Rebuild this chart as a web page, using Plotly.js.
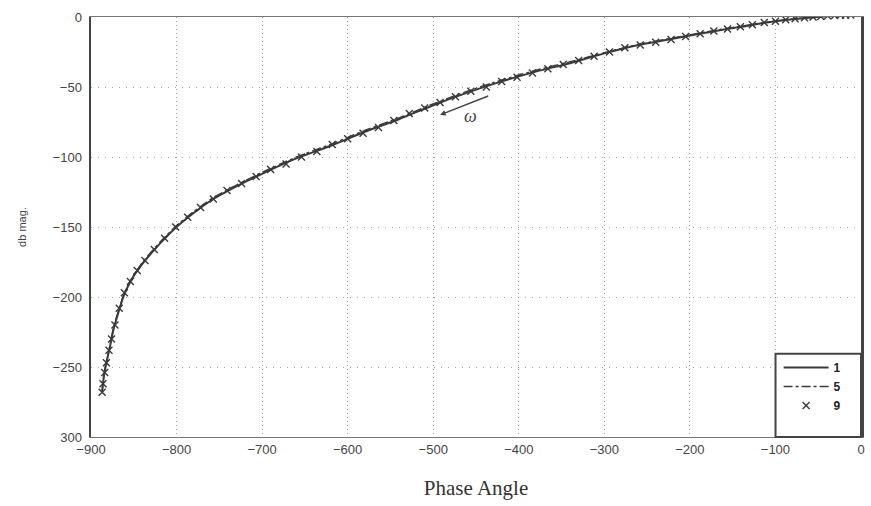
<!DOCTYPE html>
<html>
<head>
<meta charset="utf-8">
<script src="https://cdn.plot.ly/plotly-3.0.1.min.js"></script>
<style>
  html, body { margin: 0; padding: 0; background: #fff; }
  #chart { width: 871px; height: 506px; }
</style>
</head>
<body>
<div id="chart"></div>
<script>
// Nichols-style plot: magnitude (dB) against phase angle (deg) for three cases.

// Case 1 (solid line)
const phase1 = [-887, -885, -882, -878, -874, -868, -861, -852, -842, -830, -815, -800,
                -780, -757, -730, -700, -660, -620, -580, -540, -500, -460, -420, -380,
                -340, -300, -260, -220, -180, -140, -100, -70, -40, -10];
const mag1   = [-268, -257, -247, -236, -224, -211, -198, -187, -178, -169, -159, -150,
                -140, -130, -121, -112, -101, -92, -82, -73, -63, -54, -46, -39,
                -33, -26, -20, -15.5, -11, -7, -3, -1, 0.6, 1.4];

// Case 5 (dash-dot line)
const phase5 = [-887, -885, -882, -878, -874, -868, -861, -852, -842, -830, -815, -800,
                -780, -757, -730, -700, -660, -620, -580, -540, -500, -460, -420, -380,
                -340, -300, -260, -220, -180, -140, -100, -70, -40, -10];
const mag5   = [-267, -256, -246, -235, -223, -210, -197, -186, -177, -168, -158, -149,
                -139, -129, -120, -111, -100, -91, -81, -72, -62, -53, -45, -38,
                -32, -25.5, -19.5, -15, -10.5, -6.5, -2.8, -0.8, 0.7, 1.4];

// Case 9 (x markers)
const phase9 = [-887, -886, -884, -882, -879, -876, -872, -867, -861, -854, -846, -837,
                -826, -814, -801, -787, -772, -757, -741, -724, -707, -690, -672, -654,
                -636, -618, -600, -582, -564, -546, -528, -510, -492, -474, -456, -438,
                -420, -402, -384, -366, -348, -330, -312, -294, -276, -258, -240, -222,
                -205, -188, -172, -156, -141, -127, -113, -100, -88, -77, -66, -56,
                -47, -39, -31, -24, -18, -12];
const mag9   = [-268, -262, -254, -247, -238, -230, -220, -208, -197, -189, -181, -174,
                -166, -158, -150, -143, -136, -130, -124, -119, -114, -109, -105, -100,
                -96, -91, -87, -83, -79, -74, -69, -65, -61, -57, -53, -50,
                -46, -43, -40, -37, -34, -31, -28, -25, -22, -20, -18, -16,
                -14, -12, -10, -8.5, -7, -5.5, -4, -3, -2, -1.2, -0.5, 0,
                0.4, 0.8, 1, 1.2, 1.3, 1.4];

const xTicks = [-900, -800, -700, -600, -500, -400, -300, -200, -100, 0];
const xTickText = ['\u2212900', '\u2212800', '\u2212700', '\u2212600', '\u2212500',
                   '\u2212400', '\u2212300', '\u2212200', '\u2212100', '0'];
const yTicks = [0, -50, -100, -150, -200, -250, -300];
const yTickText = ['0', '\u221250', '\u2212100', '\u2212150', '\u2212200', '\u2212250', '300'];

const ink = '#3a3a3a';

const traces = [
  {
    x: phase1, y: mag1, name: '1', type: 'scatter', mode: 'lines',
    line: { color: ink, width: 2, shape: 'spline', smoothing: 0.6 }
  },
  {
    x: phase5, y: mag5, name: '5', type: 'scatter', mode: 'lines',
    line: { color: ink, width: 1.4, dash: 'dashdot', shape: 'spline', smoothing: 0.6 }
  },
  {
    x: phase9, y: mag9, name: '9', type: 'scatter', mode: 'markers',
    marker: { symbol: 'x-thin', size: 7, color: ink, line: { color: ink, width: 1.4 } }
  }
];

const layout = {
  width: 871, height: 506,
  margin: { l: 91, r: 10, t: 17, b: 69 },
  paper_bgcolor: '#fff', plot_bgcolor: '#fff',
  font: { family: 'Liberation Sans, Arial, sans-serif', color: '#333' },
  showlegend: true,
  legend: {
    x: 0.893, xanchor: 'left', y: 0.2, yanchor: 'top',
    bgcolor: 'rgba(0,0,0,0)', borderwidth: 0,
    font: { size: 12, color: '#222', weight: 'bold' },
    itemwidth: 45, tracegroupgap: 0
  },
  xaxis: {
    range: [-900, 0],
    tickmode: 'array', tickvals: xTicks, ticktext: xTickText,
    tickfont: { size: 13, color: '#444' },
    showgrid: true, gridcolor: '#a8a8a8', griddash: '1px,3px', gridwidth: 1,
    zeroline: false,
    showline: true, linecolor: '#777', linewidth: 1, mirror: true,
    ticks: '',
    title: { text: 'Phase Angle', font: { family: 'Liberation Serif, Times New Roman, serif', size: 21, color: '#333' }, standoff: 24 }
  },
  yaxis: {
    range: [-300, 0],
    tickmode: 'array', tickvals: yTicks, ticktext: yTickText,
    tickfont: { size: 13, color: '#444' },
    showgrid: true, gridcolor: '#a8a8a8', griddash: '1px,6px', gridwidth: 1,
    zeroline: false,
    showline: true, linecolor: '#444', linewidth: 2.5, mirror: true,
    ticks: '', ticklabelstandoff: 4,
    title: { text: 'db mag.', font: { size: 11, color: '#444' }, standoff: 24 }
  },
  shapes: [
    // legend frame in the lower-right corner
    { type: 'rect', xref: 'paper', yref: 'paper', x0: 0.889, x1: 1, y0: 0, y1: 0.198,
      line: { color: '#444', width: 2 }, fillcolor: '#fff', layer: 'above' }
  ],
  annotations: [
    // direction of increasing frequency along the curve
    { x: -492, y: -70, ax: -434, ay: -56, xref: 'x', yref: 'y', axref: 'x', ayref: 'y',
      showarrow: true, arrowhead: 2, arrowsize: 0.8, arrowwidth: 1.4, arrowcolor: '#444', text: '' },
    { x: -456, y: -71, xref: 'x', yref: 'y', showarrow: false,
      text: '\u03c9', font: { family: 'Liberation Serif, serif', size: 18, color: '#444', style: 'italic' } }
  ]
};

Plotly.newPlot('chart', traces, layout, { displayModeBar: false, staticPlot: true });
</script>
</body>
</html>
